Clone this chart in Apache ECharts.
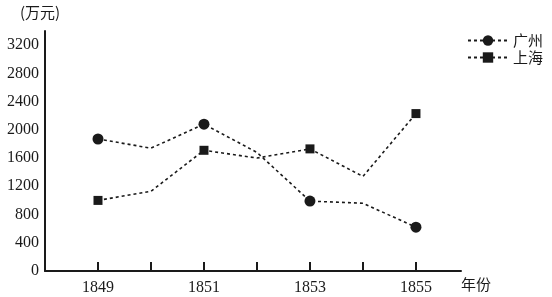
<!DOCTYPE html>
<html><head><meta charset="utf-8">
<script src="https://cdn.jsdelivr.net/npm/echarts@6/dist/echarts.min.js"></script>
<style>html,body{margin:0;padding:0;background:#fff}#c{width:552px;height:297px}</style>
</head><body><div id="c"></div>
<script>
var years = [1849, 1850, 1851, 1852, 1853, 1854, 1855];
var yearLabels = [1849, 1851, 1853, 1855];
var guangzhou = [1870, 1740, 2080, 1680, 990, 960, 620];
var shanghai = [1000, 1130, 1710, 1600, 1730, 1340, 2230];
var yTicks = [0, 400, 800, 1200, 1600, 2000, 2400, 2800, 3200];
var seriesNames = ['广州', '上海'];
var unitLabel = '(万元)';
var xName = '年份';

function build(vals) {
  return years.map(function (y, i) {
    var d = { value: [y, vals[i]] };
    if (yearLabels.indexOf(y) < 0) d.symbol = 'none';
    return d;
  });
}
var ink = '#1a1a1a';
var serif = 'Liberation Serif';
var chart = echarts.init(document.getElementById('c'));
chart.setOption({
  animation: false,
  backgroundColor: '#fff',
  grid: { left: 45, right: 91, top: 31, bottom: 26, containLabel: false },
  legend: {
    orient: 'vertical', right: 4, top: 28, padding: [5, 5, 5, 5], itemWidth: 40, itemHeight: 13, itemGap: 2,
    textStyle: { fontFamily: 'Noto Sans CJK SC', fontSize: 15, lineHeight: 14, color: ink },
    data: seriesNames
  },
  xAxis: {
    type: 'value', min: 1848, max: 1855.85, interval: 1,
    splitLine: { show: false },
    axisLine: { lineStyle: { color: ink, width: 2 } },
    axisTick: { inside: true, length: 9, lineStyle: { color: ink, width: 2 }, customValues: years },
    axisLabel: { customValues: yearLabels, margin: 9, fontFamily: serif, fontSize: 16, color: ink,
      formatter: function (v) { return String(v); } }
  },
  yAxis: {
    type: 'value', min: 0, max: 3400, interval: 400,
    splitLine: { show: false },
    axisLine: { show: true, lineStyle: { color: ink, width: 2 } },
    axisTick: { show: false },
    axisLabel: { customValues: yTicks, margin: 6, fontFamily: serif, fontSize: 16, color: ink,
      formatter: function (v) { return String(v); } }
  },
  graphic: [
    { type: 'text', left: 20, top: 5, style: { text: unitLabel, font: '15px "Noto Sans CJK SC"', fill: ink } },
    { type: 'text', left: 461, top: 277, style: { text: xName, font: '15px "Noto Sans CJK SC"', fill: ink } }
  ],
  series: [
    { name: seriesNames[0], type: 'line', data: build(guangzhou), symbol: 'circle', symbolSize: 11,
      itemStyle: { color: ink }, lineStyle: { color: ink, width: 1.6, type: [3, 3] } },
    { name: seriesNames[1], type: 'line', data: build(shanghai), symbol: 'rect', symbolSize: 9,
      itemStyle: { color: ink }, lineStyle: { color: ink, width: 1.6, type: [3, 3] } }
  ]
});
</script></body></html>
